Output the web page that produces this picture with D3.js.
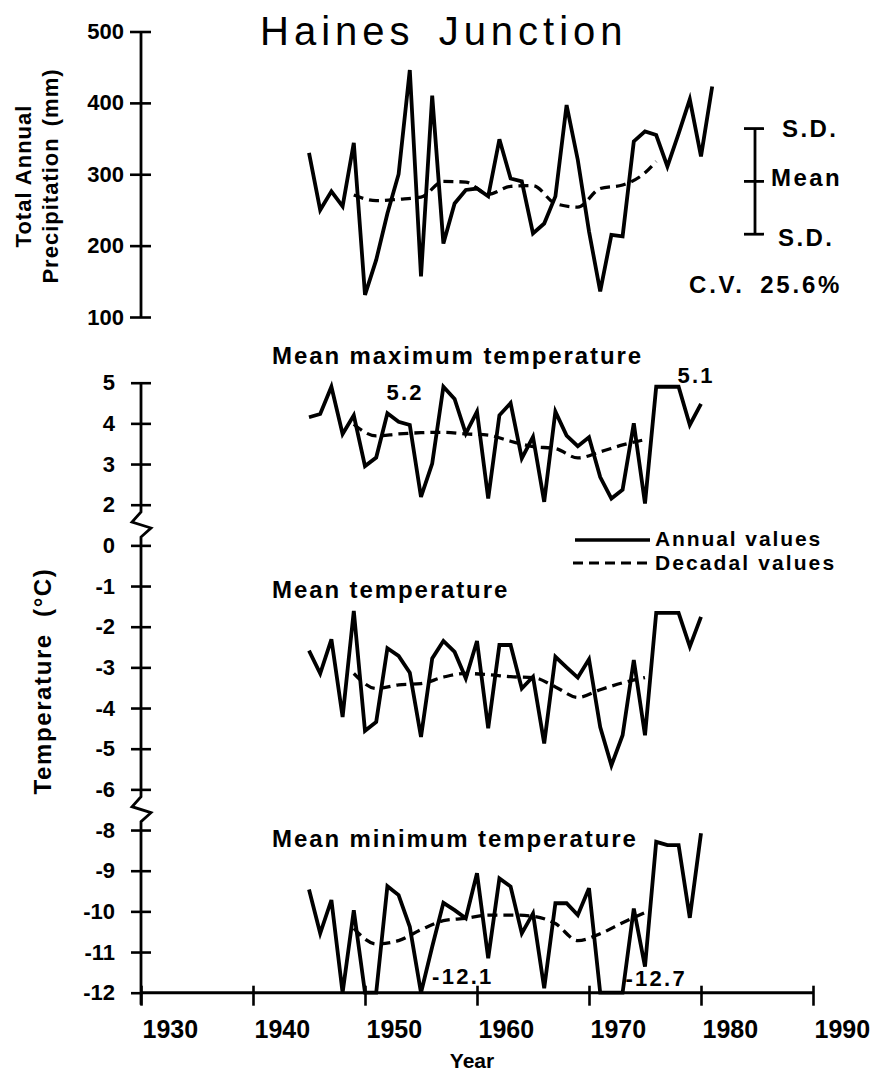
<!DOCTYPE html>
<html>
<head>
<meta charset="utf-8">
<script src="https://cdn.jsdelivr.net/npm/d3@7"></script>
<style>
  body { margin: 0; background: #fff; }
  svg text { font-family: "Liberation Sans", Arial, Helvetica, sans-serif; fill: #000; }
</style>
</head>
<body>
<svg id="chart" width="885" height="1077"></svg>
<script>
// ---- Data: Haines Junction annual climate series ----
const precipYears = [1945,1946,1947,1948,1949,1950,1951,1952,1953,1954,1955,1956,1957,1958,1959,1960,1961,1962,1963,1964,1965,1966,1967,1968,1969,1970,1971,1972,1973,1974,1975,1976,1977,1978,1979,1980,1981];
const precipAnnual = [330,250,276,255,344,131,180,245,300,446,157,410,203,259,278,280,269,349,294,290,217,231,269,397,320,220,136,215,213,346,360,355,311,357,405,325,423];

const tempYears = [1945,1946,1947,1948,1949,1950,1951,1952,1953,1954,1955,1956,1957,1958,1959,1960,1961,1962,1963,1964,1965,1966,1967,1968,1969,1970,1971,1972,1973,1974,1975,1976,1977,1978,1979,1980];
const maxTempAnnual = [4.15,4.23,5.0,3.74,4.2,2.95,3.16,4.25,4.04,3.96,2.19,3.01,5.2,4.6,3.75,4.29,2.15,4.2,4.5,3.14,3.67,2.07,4.29,3.7,3.44,3.66,2.68,2.15,2.37,4.0,2.03,4.9,5.1,5.0,3.96,4.48];
const meanTempAnnual = [-2.59,-3.15,-2.31,-4.22,-1.61,-4.56,-4.34,-2.53,-2.72,-3.13,-4.71,-2.78,-2.35,-2.62,-3.27,-2.35,-4.5,-2.45,-2.45,-3.52,-3.23,-4.87,-2.74,-3.0,-3.25,-2.8,-4.47,-5.41,-4.67,-2.82,-4.67,-1.66,-1.66,-1.66,-2.49,-1.76];
const minTempAnnual = [-9.46,-10.54,-9.72,-12.0,-9.97,-12.0,-12.0,-9.38,-9.6,-10.38,-12.1,-10.87,-9.79,-9.97,-10.17,-9.06,-11.15,-9.19,-9.39,-10.54,-10.05,-11.89,-9.8,-9.8,-10.09,-9.43,-12.3,-12.7,-12.2,-9.93,-11.36,-8.29,-8.37,-8.37,-10.16,-8.08];

// Decadal (ten-year) means, at mid-decade positions
const precipDecadeYears = [1949,1951,1953,1955,1957,1959,1961,1963,1965,1967,1969,1971,1973,1975,1976];
const precipDecadal  = [271,263,265,268,290,289,272,283,284,259,254,280,285,302,318];
const decadeYears = [1949,1951,1953,1955,1957,1959,1961,1963,1965,1967,1969,1971,1973,1975];
const maxTempDecadal = [3.98,3.69,3.74,3.77,3.78,3.74,3.71,3.56,3.43,3.38,3.15,3.3,3.47,3.6];
const meanTempDecadal = [-3.15,-3.52,-3.43,-3.4,-3.24,-3.15,-3.18,-3.23,-3.25,-3.48,-3.74,-3.55,-3.38,-3.25];
const minTempDecadal = [-10.42,-10.8,-10.72,-10.45,-10.23,-10.17,-10.09,-10.09,-10.12,-10.3,-10.72,-10.55,-10.28,-10.03];

// Precipitation summary statistics
const precipMean = 290;
const precipSD = 74;
const precipCV = "25.6%";

// Axis ticks
const yearTicks = [1930,1940,1950,1960,1970,1980,1990];
const precipTicks = [100,200,300,400,500];
const tempTicks = [5,4,3,2,0,-1,-2,-3,-4,-5,-6,-8,-9,-10,-11,-12];

// Out-of-range values that are written beside the curves
const notes = [
  { text: "5.2",   year: 1957, value: 5.2,   dx: -57, dy: 13 },
  { text: "5.1",   year: 1977, value: 5.1,   dx: 10,  dy: -4 },
  { text: "-12.1", year: 1955, value: -12.1, dx: 11,  dy: -9 },
  { text: "-12.7", year: 1972, value: -12.7, dx: 14,  dy: -7 }
];

// ---- Layout ----
const svg = d3.select("#chart");
const axisX = 141;
const baseY = 992.7;
const ink = "#000";
const FONT = "Liberation Sans, Arial, sans-serif";

const x = d3.scaleLinear().domain([1930, 1990]).range([axisX, 813]);
const yP = d3.scaleLinear().domain([100, 500]).range([317, 31.5]);

// Broken temperature axis: 1 and -7 are skipped, every drawn unit has the same height
const tTop = 382.7;
const tUnit = (baseY - tTop) / 15;
const yT = d3.scaleLinear()
  .domain([5, 2, 0, -6, -8, -12])
  .range([tTop, tTop + 3 * tUnit, tTop + 4 * tUnit, tTop + 10 * tUnit, tTop + 11 * tUnit, tTop + 15 * tUnit]);
// curves stay inside the plotting band; values beyond it are labelled instead
const tCeil = 4.9, tFloor = -12;
const yTc = v => yT(Math.max(tFloor, Math.min(tCeil, v)));

// ---- Title ----
svg.append("text")
  .attr("x", 260).attr("y", 45)
  .attr("font-size", 40)
  .attr("letter-spacing", 5)
  .attr("word-spacing", 8)
  .text("Haines Junction");

// ---- Precipitation axis ----
const pAxis = svg.append("g")
  .attr("transform", `translate(${axisX},0)`)
  .call(d3.axisLeft(yP).tickValues(precipTicks).tickSize(0).tickPadding(17).tickFormat(d => String(d)));
pAxis.select(".domain").remove();
pAxis.selectAll("text").attr("font-size", 22).attr("font-weight", "bold").attr("font-family", FONT);
pAxis.selectAll(".tick line").attr("x1", -11).attr("x2", 10).attr("stroke", ink).attr("stroke-width", 2.6);
svg.append("line")
  .attr("x1", axisX).attr("x2", axisX)
  .attr("y1", yP(500)).attr("y2", yP(100))
  .attr("stroke", ink).attr("stroke-width", 2.8);

svg.append("text")
  .attr("transform", `translate(31,176) rotate(-90)`)
  .attr("text-anchor", "middle")
  .attr("font-size", 22).attr("font-weight", "bold").attr("letter-spacing", 1)
  .text("Total Annual");
svg.append("text")
  .attr("transform", `translate(58,176) rotate(-90)`)
  .attr("text-anchor", "middle")
  .attr("font-size", 22).attr("font-weight", "bold").attr("letter-spacing", 1)
  .attr("word-spacing", 4)
  .text("Precipitation (mm)");

// ---- Temperature axis with breaks ----
const tAxis = svg.append("g")
  .attr("transform", `translate(${axisX},0)`)
  .call(d3.axisLeft(yT).tickValues(tempTicks).tickSize(0).tickPadding(26).tickFormat(d => String(d)));
tAxis.select(".domain").remove();
tAxis.selectAll("text").attr("font-size", 22).attr("font-weight", "bold").attr("font-family", FONT);
tAxis.selectAll(".tick line").attr("x1", -10).attr("x2", d => d === -12 ? 0 : 10).attr("stroke", ink).attr("stroke-width", 2.6);

const brk1 = (yT(2) + yT(0)) / 2;
const brk2 = (yT(-6) + yT(-8)) / 2;
const zig = yc => [[axisX, yc - 13], [axisX - 9, yc - 3], [axisX + 10, yc + 3], [axisX, yc + 12]];
const tAxisPts = [[axisX, yT(5)], ...zig(brk1), ...zig(brk2), [axisX, baseY + 12]];
svg.append("path")
  .attr("d", d3.line()(tAxisPts))
  .attr("fill", "none").attr("stroke", ink).attr("stroke-width", 2.8).attr("stroke-linejoin", "miter");

svg.append("text")
  .attr("transform", `translate(51,681) rotate(-90)`)
  .attr("text-anchor", "middle")
  .attr("font-size", 24).attr("font-weight", "bold")
  .attr("letter-spacing", 1.6).attr("word-spacing", 8)
  .text("Temperature (°C)");

// ---- Year axis ----
const xAxis = svg.append("g")
  .attr("transform", `translate(0,${baseY})`)
  .call(d3.axisBottom(x).tickValues(yearTicks).tickSize(0).tickFormat(d => String(d)));
xAxis.select(".domain").remove();
xAxis.selectAll(".tick line").attr("y1", -7).attr("y2", 13).attr("stroke", ink).attr("stroke-width", 2.6);
xAxis.selectAll("text")
  .attr("text-anchor", "start").attr("x", 1).attr("y", 45).attr("dy", null)
  .attr("font-size", 25).attr("font-weight", "bold").attr("font-family", FONT);
svg.append("line")
  .attr("x1", axisX).attr("x2", x(1990))
  .attr("y1", baseY).attr("y2", baseY)
  .attr("stroke", ink).attr("stroke-width", 3);
svg.append("text")
  .attr("x", 472).attr("y", 1068)
  .attr("text-anchor", "middle")
  .attr("font-size", 21).attr("font-weight", "bold")
  .text("Year");

// ---- Series drawing ----
const annualLine = (years, vals, yFn) => d3.line()
  .x((d, i) => x(years[i]))
  .y(d => yFn(d))(vals);
const decadalLine = (years, vals, yFn) => d3.line()
  .curve(d3.curveMonotoneX)
  .x((d, i) => x(years[i]))
  .y(d => yFn(d))(vals);

function drawSeries(years, annual, dYears, decadal, yFn) {
  svg.append("path")
    .attr("d", decadalLine(dYears, decadal, yFn))
    .attr("fill", "none").attr("stroke", ink)
    .attr("stroke-width", 3.3).attr("stroke-dasharray", "10,6");
  svg.append("path")
    .attr("d", annualLine(years, annual, yFn))
    .attr("fill", "none").attr("stroke", ink)
    .attr("stroke-width", 3.8).attr("stroke-linejoin", "miter").attr("stroke-miterlimit", 4);
}

drawSeries(precipYears, precipAnnual, precipDecadeYears, precipDecadal, yP);
drawSeries(tempYears, maxTempAnnual, decadeYears, maxTempDecadal, yTc);
drawSeries(tempYears, meanTempAnnual, decadeYears, meanTempDecadal, yTc);
drawSeries(tempYears, minTempAnnual, decadeYears, minTempDecadal, yTc);

// ---- Panel labels ----
const panelLabels = [
  { text: "Mean maximum temperature", y: 364 },
  { text: "Mean temperature", y: 598 },
  { text: "Mean minimum temperature", y: 847 }
];
svg.selectAll(".panel-label").data(panelLabels).enter().append("text")
  .attr("class", "panel-label")
  .attr("x", 272).attr("y", d => d.y)
  .attr("font-size", 24).attr("font-weight", "bold").attr("letter-spacing", 1.9)
  .text(d => d.text);

// ---- Value notes ----
notes.forEach(n => {
  svg.append("text")
    .attr("x", x(n.year) + n.dx).attr("y", yTc(n.value) + n.dy)
    .attr("font-size", 22).attr("font-weight", "bold").attr("letter-spacing", 2.3)
    .text(n.text);
});

// ---- Standard deviation bar ----
const sdX = 755;
const sdG = svg.append("g").attr("stroke", ink).attr("stroke-width", 2.8);
sdG.append("line").attr("x1", sdX).attr("x2", sdX).attr("y1", yP(precipMean + precipSD)).attr("y2", yP(precipMean - precipSD));
[precipMean + precipSD, precipMean, precipMean - precipSD].forEach(v => {
  sdG.append("line").attr("x1", sdX - 11).attr("x2", sdX + 9).attr("y1", yP(v)).attr("y2", yP(v));
});
const sdText = (tx, ty, s) => svg.append("text").attr("x", tx).attr("y", ty)
  .attr("font-size", 24).attr("font-weight", "bold").attr("letter-spacing", 2.4).text(s);
sdText(782, yP(precipMean + precipSD) + 8, "S.D.");
sdText(771, yP(precipMean) + 5, "Mean");
sdText(778, yP(precipMean - precipSD) + 12, "S.D.");
sdText(689, 293, "C.V. " + precipCV).attr("word-spacing", 6).attr("letter-spacing", 2.8);

// ---- Legend ----
const legend = svg.append("g");
legend.append("line").attr("x1", 575).attr("x2", 650).attr("y1", 540).attr("y2", 540)
  .attr("stroke", ink).attr("stroke-width", 3.6);
legend.append("line").attr("x1", 573).attr("x2", 650).attr("y1", 563).attr("y2", 563)
  .attr("stroke", ink).attr("stroke-width", 3.2).attr("stroke-dasharray", "10,6");
legend.append("text").attr("x", 655).attr("y", 546).attr("font-size", 21).attr("font-weight", "bold").attr("letter-spacing", 1.9).text("Annual values");
legend.append("text").attr("x", 655).attr("y", 570).attr("font-size", 21).attr("font-weight", "bold").attr("letter-spacing", 2.1).text("Decadal values");
</script>
</body>
</html>
